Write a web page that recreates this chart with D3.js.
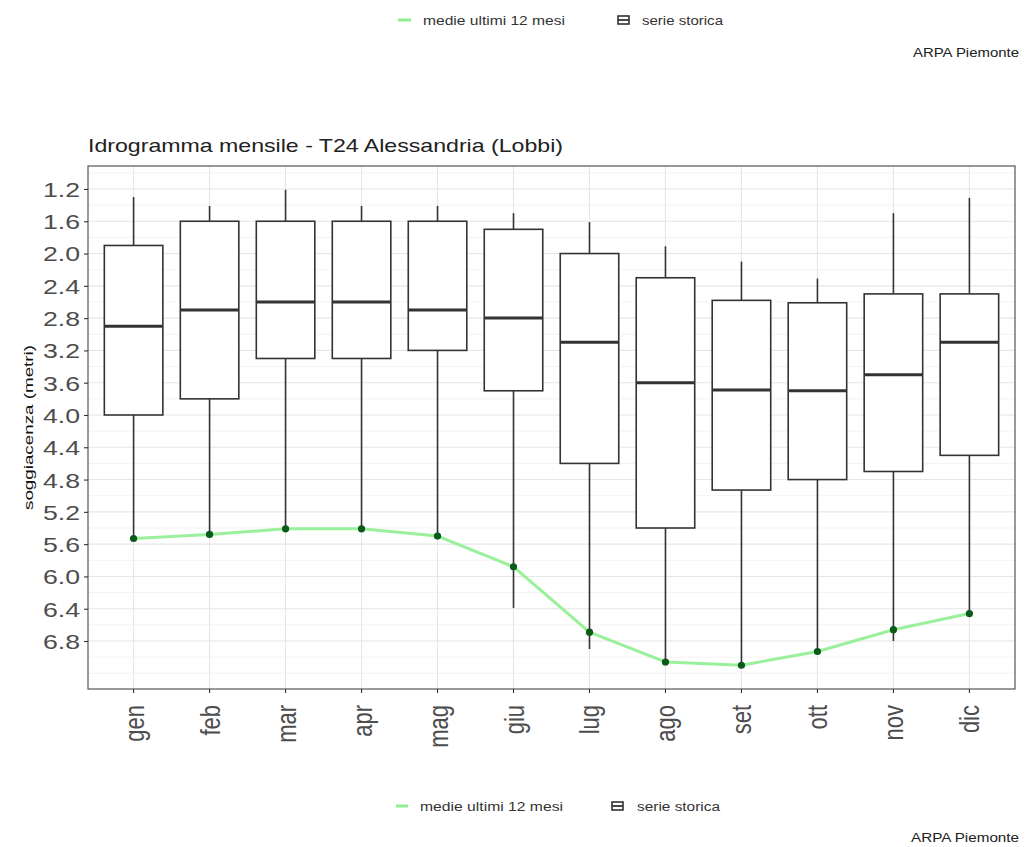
<!DOCTYPE html>
<html><head><meta charset="utf-8">
<script src="https://cdn.jsdelivr.net/npm/d3@7"></script>
<style>
body{margin:0;background:#fff;}
svg{display:block;font-family:"Liberation Sans",Arial,sans-serif;}
</style></head>
<body><svg id="c" width="1025" height="847"></svg>
<script>
const months = ["gen","feb","mar","apr","mag","giu","lug","ago","set","ott","nov","dic"];
const whiskerLow  = [1.30,1.41,1.21,1.41,1.41,1.50,1.61,1.91,2.10,2.31,1.50,1.31];
const q1          = [1.90,1.60,1.60,1.60,1.60,1.70,2.00,2.30,2.58,2.61,2.50,2.50];
const medians     = [2.90,2.70,2.60,2.60,2.70,2.80,3.10,3.60,3.69,3.70,3.50,3.10];
const q3          = [4.00,3.80,3.30,3.30,3.20,3.70,4.60,5.40,4.93,4.80,4.70,4.50];
const whiskerHigh = [5.53,5.48,5.41,5.41,5.50,6.39,6.90,7.06,7.10,6.93,6.80,6.46];
const mean12      = [5.53,5.48,5.41,5.41,5.50,5.88,6.69,7.06,7.10,6.93,6.66,6.46];
const yTicks = [1.2,1.6,2.0,2.4,2.8,3.2,3.6,4.0,4.4,4.8,5.2,5.6,6.0,6.4,6.8];
const yMinor = [1.0,1.4,1.8,2.2,2.6,3.0,3.4,3.8,4.2,4.6,5.0,5.4,5.8,6.2,6.6,7.0,7.2];
const titleText = "Idrogramma mensile - T24 Alessandria (Lobbi)";
const yTitle = "soggiacenza (metri)";
const legendLine = "medie ultimi 12 mesi";
const legendBox = "serie storica";
const credit = "ARPA Piemonte";

const SX = 1.27;
const L = 88, R = 1015, T = 166, B = 689;
const svg = d3.select("#c");

const dMin = d3.min(whiskerLow), dMax = d3.max(whiskerHigh);
const pad = (dMax - dMin) * 0.05;
const y = d3.scaleLinear().domain([dMin - pad, dMax + pad]).range([T, B]);
const x = d3.scaleBand().domain(months).range([L, R]).paddingOuter(0.1).paddingInner(0);
const cx = m => x(m) + x.bandwidth() / 2;
const bw = x.bandwidth() * 0.77;

// grid
const g = svg.append("g");
g.selectAll(".mn").data(yMinor).join("line")
  .attr("x1", L).attr("x2", R).attr("y1", d => y(d)).attr("y2", d => y(d))
  .attr("stroke", "#f0f0f0").attr("stroke-width", 0.8);
g.selectAll(".mj").data(yTicks).join("line")
  .attr("x1", L).attr("x2", R).attr("y1", d => y(d)).attr("y2", d => y(d))
  .attr("stroke", "#e6e6e6").attr("stroke-width", 1.1);
g.selectAll(".vx").data(months).join("line")
  .attr("x1", cx).attr("x2", cx).attr("y1", T).attr("y2", B)
  .attr("stroke", "#e6e6e6").attr("stroke-width", 1.1);

// boxes
const boxes = svg.append("g");
months.forEach((m, i) => {
  const c = cx(m);
  boxes.append("line").attr("x1", c).attr("x2", c).attr("y1", y(whiskerLow[i])).attr("y2", y(q1[i]))
    .attr("stroke", "#333").attr("stroke-width", 1.6);
  boxes.append("line").attr("x1", c).attr("x2", c).attr("y1", y(q3[i])).attr("y2", y(whiskerHigh[i]))
    .attr("stroke", "#333").attr("stroke-width", 1.6);
  boxes.append("rect").attr("x", c - bw / 2).attr("width", bw)
    .attr("y", y(q1[i])).attr("height", y(q3[i]) - y(q1[i]))
    .attr("fill", "#fff").attr("stroke", "#333").attr("stroke-width", 1.6);
  boxes.append("line").attr("x1", c - bw / 2).attr("x2", c + bw / 2)
    .attr("y1", y(medians[i])).attr("y2", y(medians[i]))
    .attr("stroke", "#333").attr("stroke-width", 3);
});

// mean line
const line = d3.line().x((d, i) => cx(months[i])).y(d => y(d));
svg.append("path").datum(mean12).attr("d", line)
  .attr("fill", "none").attr("stroke", "#90ee90").attr("stroke-width", 3).attr("stroke-opacity", 0.9);
svg.append("g").selectAll("circle").data(mean12).join("circle")
  .attr("cx", (d, i) => cx(months[i])).attr("cy", d => y(d)).attr("r", 3.6).attr("fill", "#0a5a1a");

// panel border
svg.append("rect").attr("x", L).attr("y", T).attr("width", R - L).attr("height", B - T)
  .attr("fill", "none").attr("stroke", "#555").attr("stroke-width", 1.2);

// y axis
const ya = svg.append("g").attr("transform", `translate(${L},0)`)
  .call(d3.axisLeft(y).tickValues(yTicks).tickFormat(d3.format(".1f")).tickSize(4).tickPadding(3));
ya.select(".domain").remove();
ya.selectAll(".tick line").attr("stroke", "#333").attr("stroke-width", 1.1);
ya.selectAll(".tick text").attr("font-size", 21).attr("fill", "#4d4d4d")
  .attr("font-family", "Liberation Sans, Arial, sans-serif")
  .attr("x", null).attr("dy", null).attr("dominant-baseline", "central")
  .attr("transform", `translate(-8,0) scale(${SX},1)`);

// x axis
const xa = svg.append("g").attr("transform", `translate(0,${B})`)
  .call(d3.axisBottom(x).tickSize(4).tickPadding(3));
xa.select(".domain").remove();
xa.selectAll(".tick line").attr("stroke", "#333").attr("stroke-width", 1.1);
xa.selectAll(".tick text").attr("font-size", 22).attr("fill", "#4d4d4d")
  .attr("font-family", "Liberation Sans, Arial, sans-serif")
  .attr("y", null).attr("dy", null).attr("text-anchor", "end").attr("dominant-baseline", "central")
  .attr("transform", `translate(0,16) scale(${SX},1) rotate(-90)`);

// title
svg.append("text").attr("x", L).attr("y", 152).text(titleText)
  .attr("font-size", 18.5).attr("fill", "#222")
  .attr("textLength", 475).attr("lengthAdjust", "spacingAndGlyphs");

// y title
svg.append("text").attr("transform", `translate(33,${(T + B) / 2}) rotate(-90)`)
  .attr("text-anchor", "middle").text(yTitle)
  .attr("font-size", 13).attr("fill", "#111")
  .attr("textLength", 165).attr("lengthAdjust", "spacingAndGlyphs");

// legends
function legend(yc, x0, lineW, t1x, t1w, bx, t2x, t2w) {
  const lg = svg.append("g");
  lg.append("line").attr("x1", x0).attr("x2", x0 + lineW).attr("y1", yc).attr("y2", yc)
    .attr("stroke", "#90ee90").attr("stroke-width", 3);
  lg.append("text").attr("x", t1x).attr("y", yc + 4.5).text(legendLine)
    .attr("font-size", 12.5).attr("fill", "#333")
    .attr("textLength", t1w).attr("lengthAdjust", "spacingAndGlyphs");
  lg.append("rect").attr("x", bx).attr("y", yc - 4).attr("width", 11).attr("height", 8)
    .attr("fill", "#fff").attr("stroke", "#333").attr("stroke-width", 1.6);
  lg.append("line").attr("x1", bx).attr("x2", bx + 11).attr("y1", yc).attr("y2", yc)
    .attr("stroke", "#333").attr("stroke-width", 1.8);
  lg.append("text").attr("x", t2x).attr("y", yc + 4.5).text(legendBox)
    .attr("font-size", 12.5).attr("fill", "#333")
    .attr("textLength", t2w).attr("lengthAdjust", "spacingAndGlyphs");
}
legend(20, 398, 13, 423, 142, 618, 642, 81);
legend(806, 396, 12, 420, 143, 612, 637, 83);

svg.append("text").attr("x", 1019).attr("y", 57).attr("text-anchor", "end").text(credit)
  .attr("font-size", 12).attr("fill", "#222")
  .attr("textLength", 106).attr("lengthAdjust", "spacingAndGlyphs");
svg.append("text").attr("x", 1019).attr("y", 842).attr("text-anchor", "end").text(credit)
  .attr("font-size", 12).attr("fill", "#222")
  .attr("textLength", 108).attr("lengthAdjust", "spacingAndGlyphs");
</script></body></html>
